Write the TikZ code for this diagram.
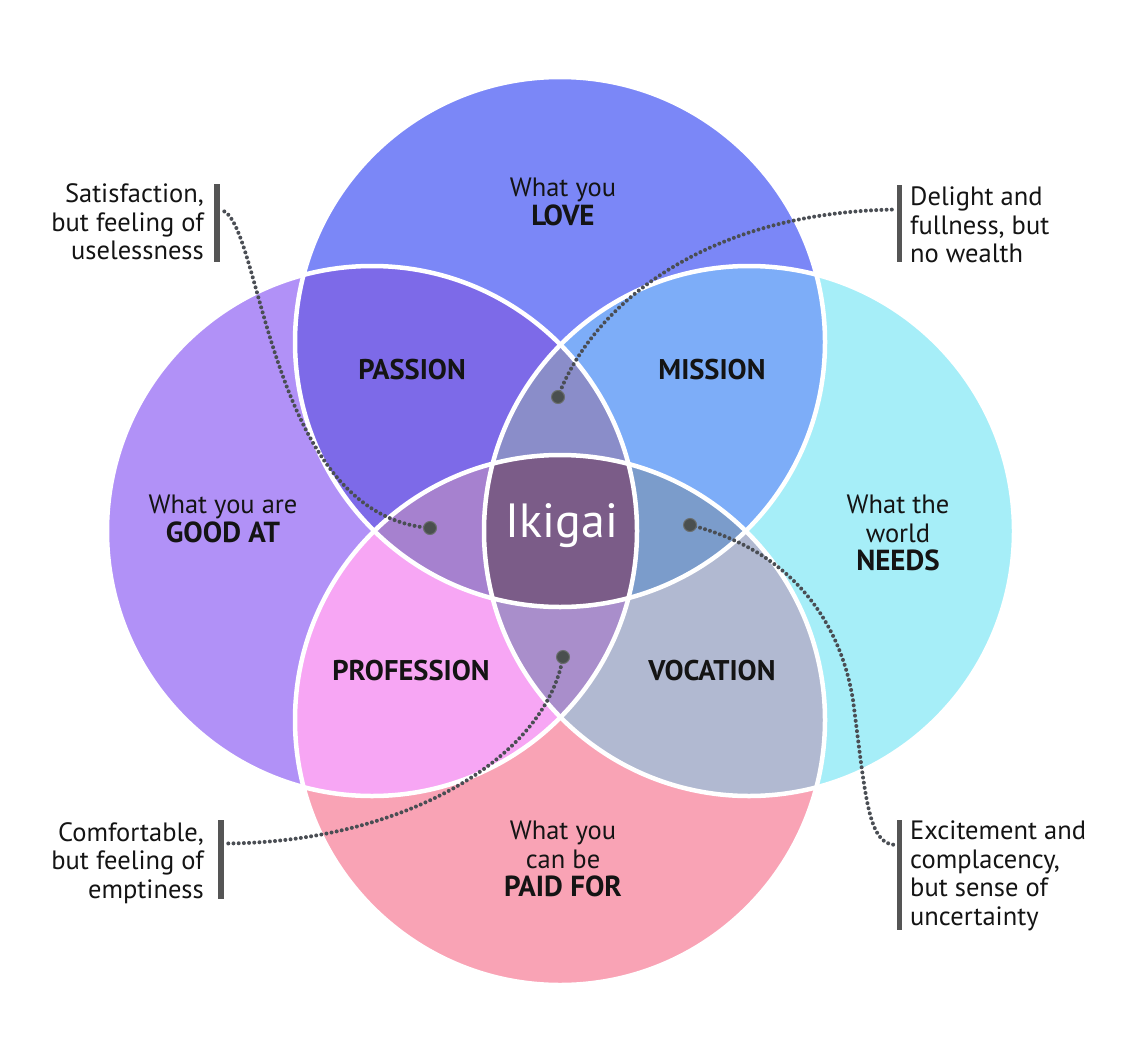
\documentclass[tikz,border=0pt]{standalone}
\usepackage{fontspec}
\setmainfont{PT Sans}
\definecolor{cLove}{HTML}{7B87F7}
\definecolor{cGood}{HTML}{B191F7}
\definecolor{cNeeds}{HTML}{A6EEF8}
\definecolor{cPaid}{HTML}{F9A3B5}
\definecolor{cPassion}{HTML}{7D6AE8}
\definecolor{cMission}{HTML}{7DADF8}
\definecolor{cProfession}{HTML}{F7A6F4}
\definecolor{cVocation}{HTML}{B1B9D1}
\definecolor{cTopLens}{HTML}{8A8DC9}
\definecolor{cLeftLens}{HTML}{A681CF}
\definecolor{cRightLens}{HTML}{7B9CCB}
\definecolor{cBotLens}{HTML}{A98ECB}
\definecolor{cIkigai}{HTML}{7B5C88}
\definecolor{linecol}{HTML}{4A4E54}
\definecolor{dotcol}{HTML}{4A4F4F}
\definecolor{dotedge}{HTML}{6A6E6E}
\definecolor{barcol}{HTML}{555555}
\definecolor{txt}{HTML}{141414}
\newcommand\bigbold[1]{{\fontsize{29}{28.5}\selectfont\bfseries #1}}
\pgfdeclarelayer{front}
\pgfsetlayers{main,front}
\begin{document}
\begin{tikzpicture}[x=1pt,y=-1pt,
  lbl/.style={font=\fontsize{26.5}{28.5}\selectfont, align=center, text=txt, inner sep=0pt},
  boldlbl/.style={font=\fontsize{28.5}{28.5}\selectfont\bfseries, text=txt, inner sep=0pt},
  note/.style={font=\fontsize{26.5}{28.5}\selectfont, text=txt, inner sep=0pt},
  barbox/.style={fill=barcol, minimum width=5.5pt, inner sep=0pt, draw=none},
  enddot/.style={circle, fill=dotcol, draw=dotedge, line width=1pt, minimum size=13pt, inner sep=0pt},
  dotline/.style={draw=linecol, line width=4pt, line cap=round, dash pattern=on 0pt off 5.2pt},
  ring/.style={draw=white, line width=4.5pt}
]
\useasboundingbox (0,0) rectangle (1124,1062);
\fill[white] (0,0) rectangle (1124,1062);

\coordinate (T) at (560,342);
\coordinate (L) at (372,531);
\coordinate (R) at (749,531);
\coordinate (B) at (560,720);

% base circles
\fill[cGood] (L) circle (265pt);
\fill[cLove] (T) circle (265pt);
\fill[cNeeds] (R) circle (265pt);
\fill[cPaid] (B) circle (265pt);

% pairwise overlaps
\begin{scope}\clip (T) circle (265pt); \fill[cPassion] (L) circle (265pt); \end{scope}
\begin{scope}\clip (T) circle (265pt); \fill[cMission] (R) circle (265pt); \end{scope}
\begin{scope}\clip (B) circle (265pt); \fill[cProfession] (L) circle (265pt); \end{scope}
\begin{scope}\clip (B) circle (265pt); \fill[cVocation] (R) circle (265pt); \end{scope}

% triple overlaps
\begin{scope}\clip (T) circle (265pt); \clip (L) circle (265pt); \fill[cTopLens] (R) circle (265pt); \end{scope}
\begin{scope}\clip (T) circle (265pt); \clip (L) circle (265pt); \fill[cLeftLens] (B) circle (265pt); \end{scope}
\begin{scope}\clip (T) circle (265pt); \clip (R) circle (265pt); \fill[cRightLens] (B) circle (265pt); \end{scope}
\begin{scope}\clip (L) circle (265pt); \clip (R) circle (265pt); \fill[cBotLens] (B) circle (265pt); \end{scope}

% all four
\begin{scope}\clip (T) circle (265pt); \clip (L) circle (265pt); \clip (R) circle (265pt); \fill[cIkigai] (B) circle (265pt); \end{scope}

% white outlines
\draw[ring] (T) circle (265pt);
\draw[ring] (L) circle (265pt);
\draw[ring] (R) circle (265pt);
\draw[ring] (B) circle (265pt);

% circle labels
\node[lbl] (love) at (563,202) {What you\\\bigbold{LOVE}};
\node[lbl] (good) at (223,519) {What you are\\\bigbold{GOOD AT}};
\node[lbl] (needs) at (898,533) {What the\\world\\\bigbold{NEEDS}};
\node[lbl] (paid) at (563,859) {What you\\can be\\\bigbold{PAID FOR}};

\node[boldlbl] (passion) at (412,370) {PASSION};
\node[boldlbl] (mission) at (712,370) {MISSION};
\node[boldlbl] (profession) at (411,671) {PROFESSION};
\node[boldlbl] (vocation) at (712,671) {VOCATION};

\node[font=\fontsize{48}{48}\selectfont, text=white, inner sep=0pt] (ikigai) at (562,526) {Ikigai};

% annotation bars and texts
\node[barbox, minimum height=78pt] (barTL) at (217,223) {};
\node[note, align=right, anchor=east] (noteTL) at (204,222) {Satisfaction,\\but feeling of\\uselessness};

\node[barbox, minimum height=77pt] (barTR) at (899.5,223.5) {};
\node[note, align=left, anchor=west] (noteTR) at (910,225) {Delight and\\fullness, but\\no wealth};

\node[barbox, minimum height=79pt] (barBL) at (221,859.5) {};
\node[note, align=right, anchor=east] (noteBL) at (204,863) {Comfortable,\\but feeling of\\emptiness};

\node[barbox, minimum height=110pt] (barBR) at (899.5,875) {};
\node[note, align=left, anchor=west] (noteBR) at (910,876) {Excitement and\\complacency,\\but sense of\\uncertainty};

% end dots
\begin{pgfonlayer}{front}
\node[enddot] (dotTL) at (430,528) {};
\node[enddot] (dotTR) at (558,397) {};
\node[enddot] (dotBL) at (563,657) {};
\node[enddot] (dotBR) at (690,525) {};
\end{pgfonlayer}

% connectors
\draw[dotline] (dotTL.center) .. controls (265,515) and (262,212) .. ([yshift=13pt]barTL.east);
\draw[dotline] (dotTR.center) .. controls (590,310) and (700,212) .. ([yshift=14pt]barTR.west);
\draw[dotline] (dotBL.center) .. controls (545,760) and (400,843) .. ([yshift=16pt]barBL.east);
\coordinate (viaBR) at (853,700);
\draw[dotline] (dotBR.center) .. controls (790,550) and (840,620) .. (viaBR)
   .. controls (866,800) and (868,845) .. ([yshift=30pt]barBR.west);
\end{tikzpicture}
\end{document}
